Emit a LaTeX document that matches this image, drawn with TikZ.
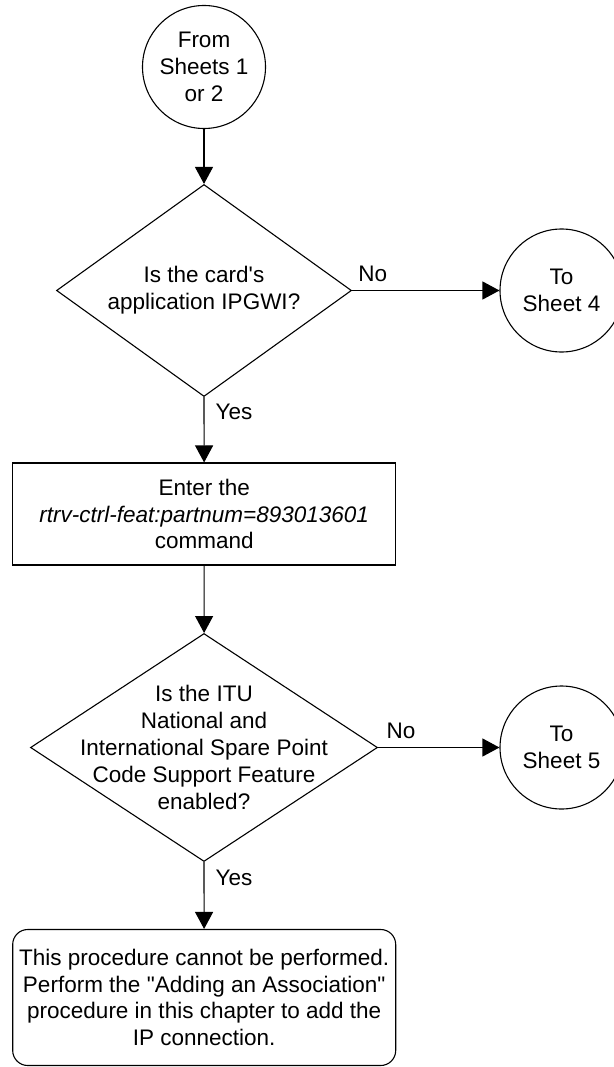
\documentclass[tikz,border=0pt]{standalone}
\usepackage{fontspec}
\setmainfont{Liberation Sans}[Ligatures=TeXOff]
\usetikzlibrary{shapes.geometric,arrows.meta}
\begin{document}
\begin{tikzpicture}[x=1pt,y=-1pt,
  every node/.style={font=\fontsize{22.5pt}{26.8pt}\selectfont},
  conn/.style={circle,draw,line width=1.1pt,minimum size=123pt,inner sep=0pt,align=center},
  decision/.style={diamond,draw,line width=1.1pt,inner sep=0pt},
  procbox/.style={rectangle,draw,line width=1.1pt,inner sep=0pt,align=center},
  endbox/.style={rectangle,rounded corners=15pt,draw,line width=1.1pt,inner sep=0pt,align=center},
  txt/.style={align=center,inner sep=0pt},
  lbl/.style={inner sep=0pt},
  arr/.style={line width=1.1pt,-{Triangle[length=17pt,width=18pt]}}]
\useasboundingbox (0,0) rectangle (613,1067);
\node[conn] (c1) at (204,67) {From\\Sheets 1\\or 2};
\node[decision,minimum width=295pt,minimum height=212pt] (d1) at (204,290.5) {};
\node[txt] (t1) at (d1.center) {Is the card's\\application IPGWI?};
\node[conn] (c4) at (561.5,290.5) {To\\Sheet 4};
\node[procbox,minimum width=383pt,minimum height=102pt] (r1) at (204.2,514) {Enter the\\\textit{rtrv-ctrl-feat:partnum=893013601}\\command};
\node[decision,minimum width=347pt,minimum height=228pt] (d2) at (204,747.5) {};
\node[txt] (t2) at (d2.center) {Is the ITU\\National and\\International Spare Point\\Code Support Feature\\enabled?};
\node[conn] (c5) at (561.5,747.5) {To\\Sheet 5};
\node[endbox,minimum width=383pt,minimum height=136pt] (e1) at (204.2,997.5) {This procedure cannot be performed.\\Perform the "Adding an Association"\\procedure in this chapter to add the\\IP connection.};
\draw[arr] (c1) -- (d1);
\draw[arr] (d1.east) -- node[lbl,pos=0.14,above=8pt]{No} (c4);
\draw[arr] (d1.south) -- node[lbl,pos=0.23,right=11pt]{Yes} (r1);
\draw[arr] (r1) -- (d2);
\draw[arr] (d2.east) -- node[lbl,pos=0.19,above=8pt]{No} (c5);
\draw[arr] (d2.south) -- node[lbl,pos=0.235,right=11pt]{Yes} (e1);
\end{tikzpicture}
\end{document}
